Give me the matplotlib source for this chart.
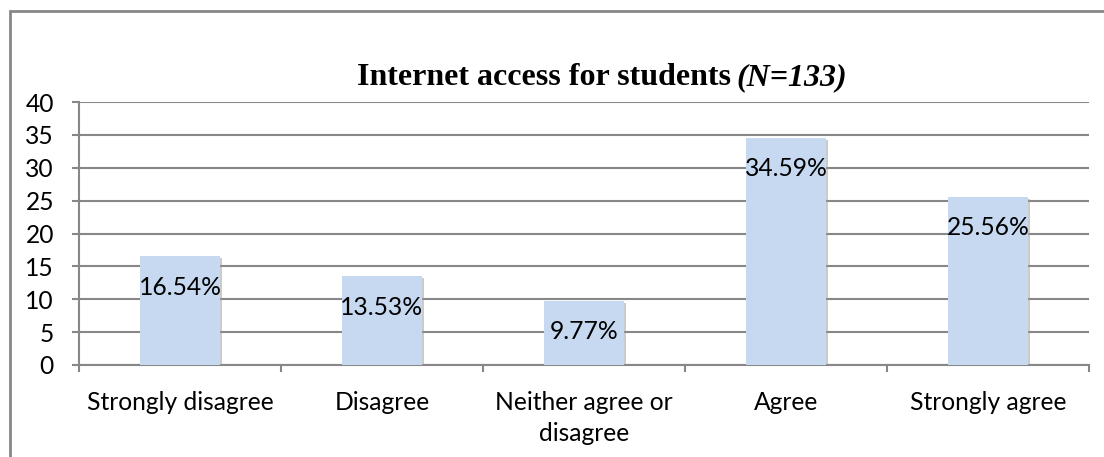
import matplotlib
matplotlib.use("Agg")
import matplotlib.pyplot as plt
import matplotlib.patheffects as pe
from matplotlib.patches import Rectangle

categories = ["Strongly disagree", "Disagree", "Neither agree or\ndisagree", "Agree", "Strongly agree"]
values = [16.54, 13.53, 9.77, 34.59, 25.56]
labels = ["16.54%", "13.53%", "9.77%", "34.59%", "25.56%"]
yticks = [0, 5, 10, 15, 20, 25, 30, 35, 40]

W, H = 1104, 457
fig = plt.figure(figsize=(W / 100, H / 100), dpi=100)
ax = fig.add_axes([79 / W, 1 - 365 / H, (1089 - 79) / W, (365 - 102) / H])

font = "Lato"
fs = 17.7
grid_c = "#878787"
x = list(range(len(categories)))

bars = ax.bar(x, values, width=0.4, color="#C6D9F1", zorder=3,
              path_effects=[pe.SimplePatchShadow(offset=(1.5, -1.5), shadow_rgbFace="#999999", alpha=0.5), pe.Normal()])

for xi, v, lab in zip(x, values, labels):
    ax.annotate(lab, (xi, v), xytext=(0, -31), textcoords="offset pixels",
                ha="center", va="center", fontsize=fs, family=font, color="black", zorder=4)

ax.set_xlim(-0.5, len(categories) - 0.5)
ax.set_ylim(0, 40)
ax.set_yticks(yticks)
ax.set_yticklabels([str(t) for t in yticks], fontsize=fs, family=font)
ax.yaxis.grid(True, color=grid_c, linewidth=1.5, zorder=0)
ax.set_axisbelow(True)

ax.set_xticks(x)
ax.set_xticklabels(categories, fontsize=fs, family=font, va="top", linespacing=1.4)
ax.set_xticks([i + 0.5 for i in range(-1, len(categories))], minor=True)
ax.tick_params(axis="x", which="major", length=0, pad=19)
ax.tick_params(axis="x", which="minor", length=5, width=1.5, color=grid_c, direction="out")
ax.tick_params(axis="y", length=5, width=1.5, color=grid_c, pad=13)

for s in ["top", "right"]:
    ax.spines[s].set_visible(False)
for s in ["left", "bottom"]:
    ax.spines[s].set_color(grid_c)
    ax.spines[s].set_linewidth(1.5)

ty = 1 - 85 / H
fig.text(731 / W, ty, "Internet access for students", ha="right", va="baseline",
         fontsize=23, family="Liberation Serif", weight="bold")
fig.text(736 / W, ty, "(N=133)", ha="left", va="baseline",
         fontsize=23, family="Liberation Serif", weight="bold", style="italic")

# outer chart border (cropped on right and bottom)
fig.patches.append(Rectangle((10 / W, -0.1), 1.2, 1.1 - 11 / H, transform=fig.transFigure,
                             fill=False, edgecolor="#878787", linewidth=2))

fig.savefig("out.png", dpi=100)
